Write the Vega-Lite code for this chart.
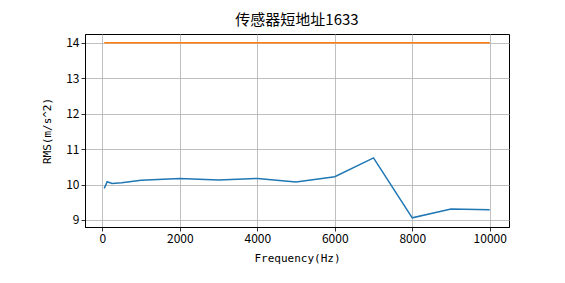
{
  "$schema": "https://vega.github.io/schema/vega-lite/v6.json",
  "width": 424,
  "height": 193,
  "autosize": "none",
  "padding": {"left": 85, "top": 34, "right": 56, "bottom": 56},
  "background": "white",
  "title": {"text": "传感器短地址1633", "font": "Noto Sans CJK SC", "fontSize": 15, "fontWeight": "normal", "color": "black", "offset": 6, "anchor": "middle"},
  "config": {
    "view": {"stroke": "black", "strokeWidth": 1},
    "axis": {
      "labelFont": "Noto Sans CJK SC", "labelFontSize": 12, "labelColor": "black",
      "titleFont": "DejaVu Sans Mono", "titleFontSize": 11, "titleFontWeight": "normal", "titleColor": "black",
      "gridColor": "#b0b0b0", "gridWidth": 0.8, "gridOpacity": 1,
      "domainColor": "black", "tickColor": "black", "tickSize": 4, "tickWidth": 0.8, "labelPadding": 2
    }
  },
  "data": {"values": [
    {"f": 50, "v": 9.89, "s": "rms"},
    {"f": 125, "v": 10.08, "s": "rms"},
    {"f": 250, "v": 10.03, "s": "rms"},
    {"f": 500, "v": 10.05, "s": "rms"},
    {"f": 1000, "v": 10.12, "s": "rms"},
    {"f": 2000, "v": 10.17, "s": "rms"},
    {"f": 3000, "v": 10.13, "s": "rms"},
    {"f": 4000, "v": 10.17, "s": "rms"},
    {"f": 5000, "v": 10.07, "s": "rms"},
    {"f": 6000, "v": 10.22, "s": "rms"},
    {"f": 7000, "v": 10.75, "s": "rms"},
    {"f": 8000, "v": 9.06, "s": "rms"},
    {"f": 9000, "v": 9.31, "s": "rms"},
    {"f": 10000, "v": 9.29, "s": "rms"},
    {"f": 50, "v": 14.0, "s": "limit"},
    {"f": 10000, "v": 14.0, "s": "limit"}
  ]},
  "mark": {"type": "line", "strokeWidth": 1.5, "clip": true},
  "encoding": {
    "x": {"field": "f", "type": "quantitative", "title": "Frequency(Hz)",
      "scale": {"domain": [-447.5, 10497.5], "nice": false, "zero": false},
      "axis": {"values": [0, 2000, 4000, 6000, 8000, 10000], "format": "d", "titlePadding": 8}},
    "y": {"field": "v", "type": "quantitative", "title": "RMS(m/s^2)",
      "scale": {"domain": [8.8, 14.25], "nice": false, "zero": false},
      "axis": {"values": [9, 10, 11, 12, 13, 14], "format": "d", "titlePadding": 13}},
    "color": {"field": "s", "type": "nominal", "legend": null,
      "scale": {"domain": ["rms", "limit"], "range": ["#1f77b4", "#ff7f0e"]}},
    "detail": {"field": "s"}
  }
}
